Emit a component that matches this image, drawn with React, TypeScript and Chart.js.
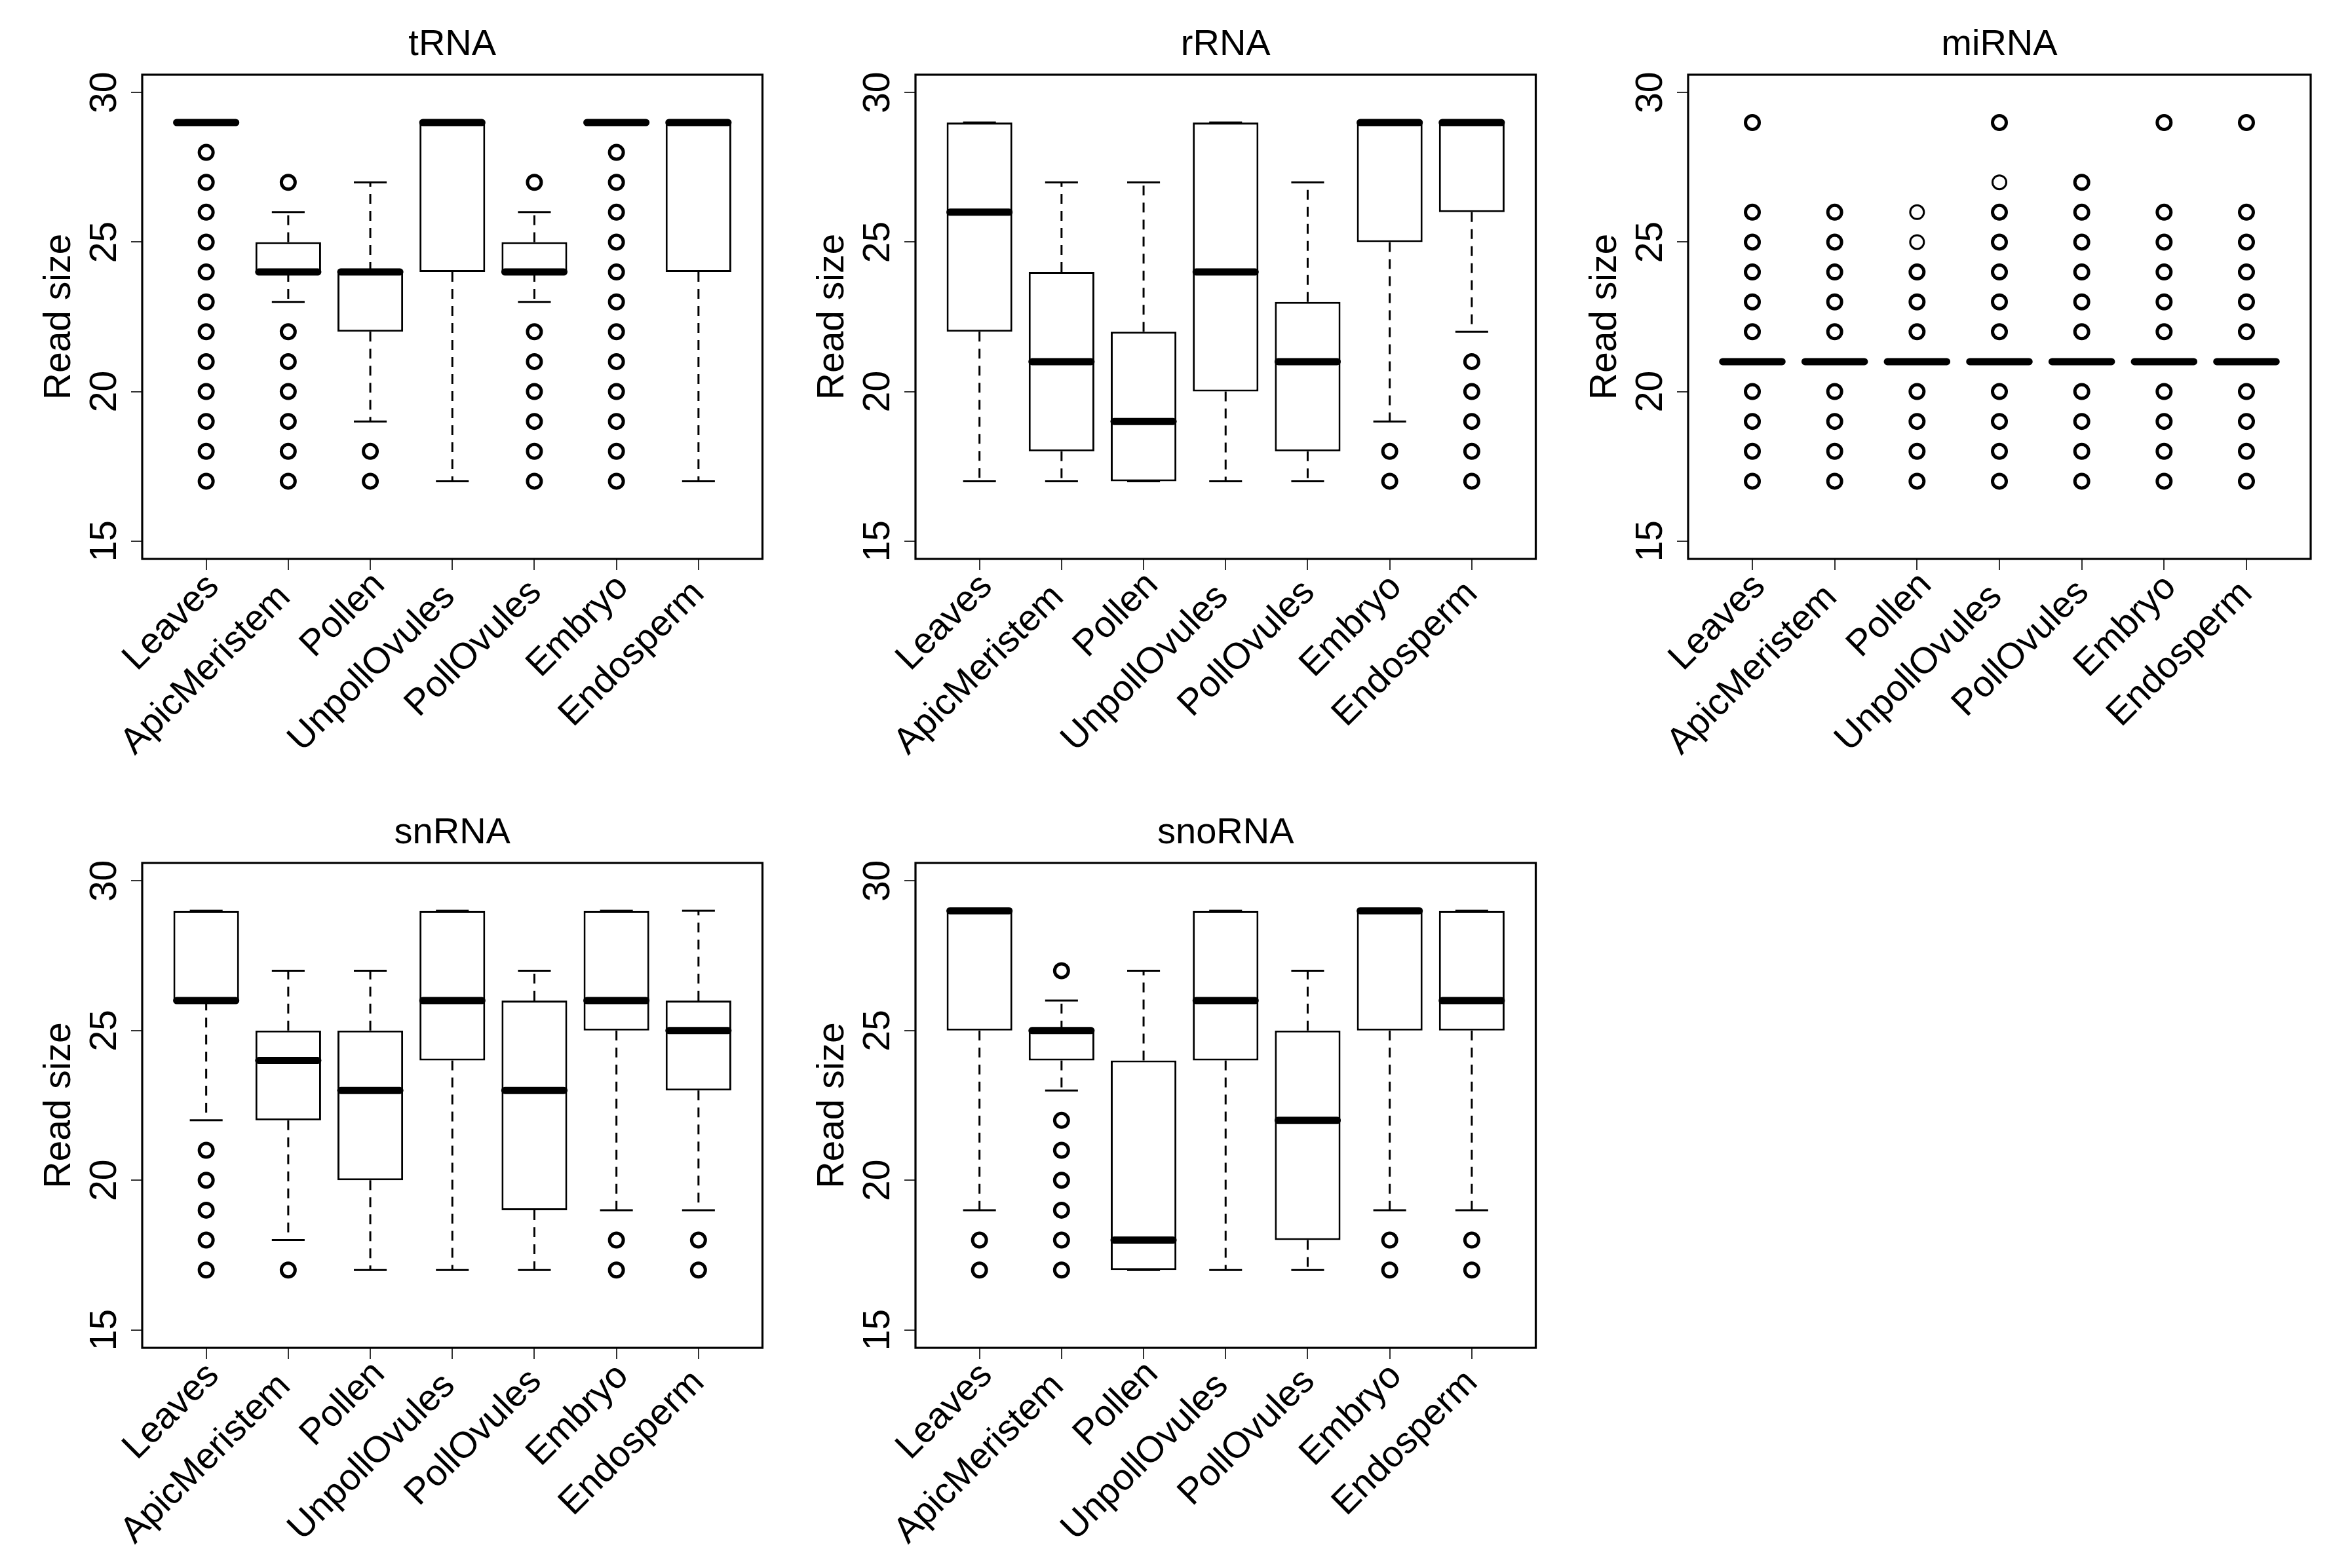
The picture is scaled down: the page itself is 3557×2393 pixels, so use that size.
import React, { useEffect, useRef } from "react";
import { Chart, registerables } from "chart.js";

Chart.register(...registerables);

// ---------- data ----------
const categories = ["Leaves", "ApicMeristem", "Pollen", "UnpollOvules", "PollOvules", "Embryo", "Endosperm"];
const yTicks = [15, 20, 25, 30];
const yLabel = "Read size";

// tRNA
const tRNA_low = [29, 23, 19, 17, 23, 29, 17];
const tRNA_q1 = [29, 24, 22, 24, 24, 29, 24];
const tRNA_med = [29, 24, 24, 29, 24, 29, 29];
const tRNA_q3 = [29, 25, 24, 29, 25, 29, 29];
const tRNA_high = [29, 26, 27, 29, 26, 29, 29];
const tRNA_out = [
  [17, 18, 19, 20, 21, 22, 23, 24, 25, 26, 27, 28],
  [17, 18, 19, 20, 21, 22, 27],
  [17, 18],
  [],
  [17, 18, 19, 20, 21, 22, 27],
  [17, 18, 19, 20, 21, 22, 23, 24, 25, 26, 27, 28],
  [],
];
const tRNA_single: number[][] = [[], [], [], [], [], [], []];

// rRNA
const rRNA_low = [17, 17, 17, 17, 17, 19, 22];
const rRNA_q1 = [22, 18, 17, 20, 18, 25, 26];
const rRNA_med = [26, 21, 19, 24, 21, 29, 29];
const rRNA_q3 = [29, 24, 22, 29, 23, 29, 29];
const rRNA_high = [29, 27, 27, 29, 27, 29, 29];
const rRNA_out = [[], [], [], [], [], [17, 18], [17, 18, 19, 20, 21]];
const rRNA_single: number[][] = [[], [], [], [], [], [], []];

// miRNA
const miRNA_low = [21, 21, 21, 21, 21, 21, 21];
const miRNA_q1 = [21, 21, 21, 21, 21, 21, 21];
const miRNA_med = [21, 21, 21, 21, 21, 21, 21];
const miRNA_q3 = [21, 21, 21, 21, 21, 21, 21];
const miRNA_high = [21, 21, 21, 21, 21, 21, 21];
const miRNA_out = [
  [17, 18, 19, 20, 22, 23, 24, 25, 26, 29],
  [17, 18, 19, 20, 22, 23, 24, 25, 26],
  [17, 18, 19, 20, 22, 23, 24, 25, 26],
  [17, 18, 19, 20, 22, 23, 24, 25, 26, 27, 29],
  [17, 18, 19, 20, 22, 23, 24, 25, 26, 27],
  [17, 18, 19, 20, 22, 23, 24, 25, 26, 29],
  [17, 18, 19, 20, 22, 23, 24, 25, 26, 29],
];
// outliers that look like a single observation (thin ring)
const miRNA_single: number[][] = [[], [], [25, 26], [27], [], [], []];

// snRNA
const snRNA_low = [22, 18, 17, 17, 17, 19, 19];
const snRNA_q1 = [26, 22, 20, 24, 19, 25, 23];
const snRNA_med = [26, 24, 23, 26, 23, 26, 25];
const snRNA_q3 = [29, 25, 25, 29, 26, 29, 26];
const snRNA_high = [29, 27, 27, 29, 27, 29, 29];
const snRNA_out = [[17, 18, 19, 20, 21], [17], [], [], [], [17, 18], [17, 18]];
const snRNA_single: number[][] = [[], [], [], [], [], [], []];

// snoRNA
const snoRNA_low = [19, 23, 17, 17, 17, 19, 19];
const snoRNA_q1 = [25, 24, 17, 24, 18, 25, 25];
const snoRNA_med = [29, 25, 18, 26, 22, 29, 26];
const snoRNA_q3 = [29, 25, 24, 29, 25, 29, 29];
const snoRNA_high = [29, 26, 27, 29, 27, 29, 29];
const snoRNA_out = [[17, 18], [17, 18, 19, 20, 21, 22, 27], [], [], [], [17, 18], [17, 18]];
const snoRNA_single: number[][] = [[], [], [], [], [], [], []];

// ---------- layout / style ----------
const FONT = '"Liberation Sans", Arial, Helvetica, sans-serif';
const COL_LEFT = [0, 1180, 2359];
const COL_WIDTH = [1179, 1179, 1198];
const ROW_TOP = [0, 1203];
const ROW_HEIGHT = [1196, 1190];
const ROW_PLOT_BOTTOM = [853, 854];
const PLOT_LEFT = 217;
const PLOT_RIGHT = 1167;
const PLOT_TOP = 114;

type Panel = {
  title: string;
  low: number[];
  q1: number[];
  med: number[];
  q3: number[];
  high: number[];
  out: number[][];
  single: number[][];
  col: number;
  row: number;
};

const panels: Panel[] = [
  { title: "tRNA", low: tRNA_low, q1: tRNA_q1, med: tRNA_med, q3: tRNA_q3, high: tRNA_high, out: tRNA_out, single: tRNA_single, col: 0, row: 0 },
  { title: "rRNA", low: rRNA_low, q1: rRNA_q1, med: rRNA_med, q3: rRNA_q3, high: rRNA_high, out: rRNA_out, single: rRNA_single, col: 1, row: 0 },
  { title: "miRNA", low: miRNA_low, q1: miRNA_q1, med: miRNA_med, q3: miRNA_q3, high: miRNA_high, out: miRNA_out, single: miRNA_single, col: 2, row: 0 },
  { title: "snRNA", low: snRNA_low, q1: snRNA_q1, med: snRNA_med, q3: snRNA_q3, high: snRNA_high, out: snRNA_out, single: snRNA_single, col: 0, row: 1 },
  { title: "snoRNA", low: snoRNA_low, q1: snoRNA_q1, med: snoRNA_med, q3: snoRNA_q3, high: snoRNA_high, out: snoRNA_out, single: snoRNA_single, col: 1, row: 1 },
];

function makePlugin(p: Panel) {
  const seg = (ctx: CanvasRenderingContext2D, x1: number, y1: number, x2: number, y2: number) => {
    ctx.beginPath();
    ctx.moveTo(x1, y1);
    ctx.lineTo(x2, y2);
    ctx.stroke();
  };
  return {
    id: "rbox",
    beforeDatasetsDraw(chart: any) {
      const { ctx } = chart;
      const x = chart.scales.x;
      const y = chart.scales.y;
      ctx.save();
      ctx.strokeStyle = "#000";
      ctx.lineWidth = 3;
      ctx.lineCap = "butt";
      categories.forEach((_, i) => {
        const cx = x.getPixelForValue(i + 1);
        const sh = x.getPixelForValue(i + 1 + 0.2) - cx;
        const yl = y.getPixelForValue(p.low[i]);
        const y1 = y.getPixelForValue(p.q1[i]);
        const y3 = y.getPixelForValue(p.q3[i]);
        const yh = y.getPixelForValue(p.high[i]);
        ctx.setLineDash([15, 11]);
        if (yl - y1 > 1) seg(ctx, cx, y1, cx, yl);
        if (y3 - yh > 1) seg(ctx, cx, y3, cx, yh);
        ctx.setLineDash([]);
        seg(ctx, cx - sh, yl, cx + sh, yl);
        seg(ctx, cx - sh, yh, cx + sh, yh);
      });
      ctx.restore();
    },
    afterDatasetsDraw(chart: any) {
      const { ctx } = chart;
      const x = chart.scales.x;
      const y = chart.scales.y;
      ctx.save();
      ctx.strokeStyle = "#000";
      ctx.lineWidth = 11;
      ctx.lineCap = "round";
      categories.forEach((_, i) => {
        const cx = x.getPixelForValue(i + 1);
        const bh = x.getPixelForValue(i + 1 + 0.4) - cx;
        const ym = y.getPixelForValue(p.med[i]);
        seg(ctx, cx - bh + 5, ym, cx + bh - 5, ym);
      });
      ctx.restore();
    },
    afterDraw(chart: any) {
      const { ctx, chartArea } = chart;
      const x = chart.scales.x;
      const y = chart.scales.y;
      const { left, right, top, bottom } = chartArea;
      ctx.save();
      // frame
      ctx.strokeStyle = "#000";
      ctx.lineWidth = 3.2;
      ctx.strokeRect(left, top, right - left, bottom - top);
      ctx.fillStyle = "#000";
      // y tick labels (rotated, parallel to axis)
      ctx.font = `57px ${FONT}`;
      ctx.textAlign = "center";
      ctx.textBaseline = "alphabetic";
      yTicks.forEach((v) => {
        ctx.save();
        ctx.translate(left - 40, y.getPixelForValue(v));
        ctx.rotate(-Math.PI / 2);
        ctx.fillText(String(v), 0, 0);
        ctx.restore();
      });
      // y axis title
      ctx.font = `57px ${FONT}`;
      ctx.save();
      ctx.translate(left - 110, (top + bottom) / 2);
      ctx.rotate(-Math.PI / 2);
      ctx.fillText(yLabel, 0, 0);
      ctx.restore();
      // x labels at 45 degrees
      ctx.font = `56px ${FONT}`;
      ctx.textAlign = "left";
      categories.forEach((c, i) => {
        const tw = ctx.measureText(c).width;
        ctx.save();
        ctx.translate(x.getPixelForValue(i + 1) + 40.5, bottom + 26);
        ctx.rotate(-Math.PI / 4);
        ctx.fillText(c, -1.145 * tw, 0);
        ctx.restore();
      });
      // panel title
      ctx.font = `56px ${FONT}`;
      ctx.textAlign = "center";
      ctx.fillText(p.title, (left + right) / 2, top - 30);
      ctx.restore();
    },
  };
}

function BoxPanel({ p }: { p: Panel }) {
  const ref = useRef<HTMLCanvasElement>(null);
  const w = COL_WIDTH[p.col];
  const h = ROW_HEIGHT[p.row];
  const plotBottom = ROW_PLOT_BOTTOM[p.row];

  useEffect(() => {
    if (!ref.current) return;
    const gridOpts = {
      display: true,
      drawOnChartArea: false,
      drawTicks: true,
      tickLength: 17,
      color: "#333",
      lineWidth: 2,
      offset: false,
    };
    const outPoints = p.out.flatMap((arr, i) => arr.map((v) => ({ x: i + 1, y: v })));
    const isSingle = (pt: { x: number; y: number }) => p.single[pt.x - 1].includes(pt.y);
    const chart = new Chart(ref.current, {
      type: "bar",
      data: {
        datasets: [
          {
            type: "bar",
            data: categories.map((_, i) => ({ x: i + 1, y: [p.q1[i], p.q3[i]] })),
            backgroundColor: "#ffffff",
            borderColor: "#000000",
            borderWidth: 3,
            borderSkipped: false,
            categoryPercentage: 1,
            barPercentage: 0.8,
            order: 2,
          } as any,
          {
            type: "scatter",
            data: outPoints,
            pointStyle: "circle",
            pointRadius: 10.5,
            pointBorderWidth: (c: any) => (c.raw && isSingle(c.raw) ? 3 : 5),
            pointBackgroundColor: "rgba(0,0,0,0)",
            pointBorderColor: "#000000",
            order: 1,
          } as any,
        ],
      },
      options: {
        animation: false,
        responsive: false,
        events: [],
        layout: { padding: { top: PLOT_TOP, left: 0, right: w - PLOT_RIGHT, bottom: 0 } },
        plugins: { legend: { display: false }, tooltip: { enabled: false }, title: { display: false } },
        scales: {
          x: {
            type: "linear",
            min: 0.22,
            max: 7.78,
            offset: false,
            afterBuildTicks: (s: any) => {
              s.ticks = categories.map((_, i) => ({ value: i + 1 }));
            },
            afterFit: (s: any) => {
              s.height = h - plotBottom;
            },
            ticks: { display: false },
            grid: gridOpts,
            border: { display: false },
          },
          y: {
            type: "linear",
            min: 14.4,
            max: 30.6,
            beginAtZero: false,
            afterBuildTicks: (s: any) => {
              s.ticks = yTicks.map((v) => ({ value: v }));
            },
            afterFit: (s: any) => {
              s.width = PLOT_LEFT;
            },
            ticks: { display: false },
            grid: gridOpts,
            border: { display: false },
          },
        },
      } as any,
      plugins: [makePlugin(p) as any],
    });
    return () => chart.destroy();
  }, []);

  return (
    <canvas
      ref={ref}
      width={w}
      height={h}
      style={{ position: "absolute", left: COL_LEFT[p.col], top: ROW_TOP[p.row], width: w, height: h }}
    />
  );
}

export default function App() {
  return (
    <div style={{ position: "absolute", left: 0, top: 0, width: 3557, height: 2393, background: "#ffffff", overflow: "hidden" }}>
      {panels.map((p) => (
        <BoxPanel key={p.title} p={p} />
      ))}
    </div>
  );
}
